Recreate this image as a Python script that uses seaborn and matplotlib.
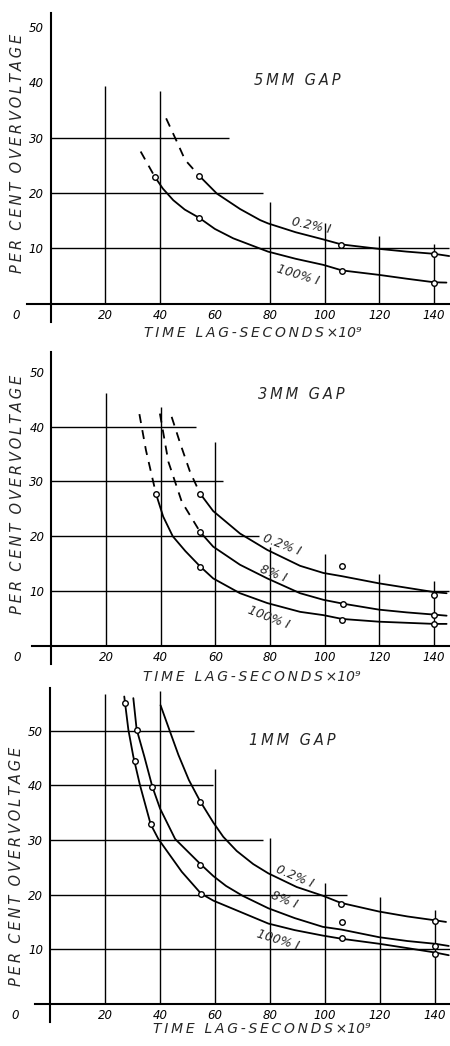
import seaborn as sns
import matplotlib.pyplot as plt

# --------------------------------------------------
# DATA
# --------------------------------------------------
x_ticks = [20, 40, 60, 80, 100, 120, 140]
y_ticks = [10, 20, 30, 40, 50]

# ---- 5 MM GAP ----
g5_02_x = [54.3, 60.7, 69.2, 76.5, 79.4, 89.5, 99.6, 106.2, 119.8, 130, 140.1, 145.5]
g5_02_y = [23.1, 19.9, 17.1, 15.1, 14.5, 12.9, 11.6, 10.7, 9.9, 9.4, 9.0, 8.6]
g5_02_dash_x = [42.2, 46.1, 49.1, 54.3]
g5_02_dash_y = [33.5, 29.3, 26.0, 23.1]
g5_02_pts_x = [54.3, 106.2, 140.1]
g5_02_pts_y = [23.1, 10.6, 9.0]

g5_100_x = [38.1, 41, 44.8, 49, 54.3, 60, 66.7, 79.4, 89.5, 99.6, 106.4, 119.8, 130, 140.1, 144.5]
g5_100_y = [22.9, 20.8, 18.7, 17.0, 15.5, 13.5, 11.8, 9.4, 8.1, 7.0, 6.0, 5.2, 4.5, 3.85, 3.8]
g5_100_dash_x = [32.9, 38.1]
g5_100_dash_y = [27.5, 22.9]
g5_100_pts_x = [38.1, 54.3, 106.4, 140.1]
g5_100_pts_y = [22.9, 15.5, 5.9, 3.8]

g5_vgrid_x = [20, 40, 80, 100, 120, 140]
g5_vgrid_top = [39.3, 38.4, 18.3, 14.6, 12.2, 10.8]
g5_hgrid_y = [10, 20, 30]
g5_hgrid_end = [145.5, 77.5, 65]

# ---- 3 MM GAP ----
g3_02_x = [54.4, 59.2, 69.0, 79.0, 91.0, 99.5, 106.4, 119.9, 130, 140.1, 144.6]
g3_02_y = [27.8, 24.6, 20.5, 17.5, 14.6, 13.3, 12.7, 11.4, 10.6, 9.8, 9.6]
g3_02_dash_x = [44.0, 47.1, 50.7, 54.4]
g3_02_dash_y = [41.8, 37.0, 31.8, 27.8]
g3_02_pts_x = [54.4, 106.4, 140]
g3_02_pts_y = [27.8, 14.6, 9.3]

g3_8_x = [54.4, 59.2, 69.0, 79.0, 91.0, 99.5, 106.6, 119.9, 130, 140, 144.6]
g3_8_y = [20.8, 18.1, 14.8, 12.3, 9.6, 8.4, 7.7, 6.6, 6.1, 5.7, 5.5]
g3_8_dash_x = [39.7, 42.8, 47.7, 54.4]
g3_8_dash_y = [42.4, 33.6, 26.3, 20.8]
g3_8_pts_x = [54.4, 106.6, 140]
g3_8_pts_y = [20.8, 7.6, 5.7]

g3_100_x = [38.3, 40.9, 44.4, 49, 54.4, 59.2, 69.0, 79.0, 91.0, 99.5, 106.4, 119.9, 130, 140, 144.6]
g3_100_y = [27.7, 23.6, 20.0, 17.3, 14.5, 12.3, 9.6, 7.8, 6.2, 5.6, 4.9, 4.4, 4.2, 4.0, 4.0]
g3_100_dash_x = [32.2, 34.6, 38.3]
g3_100_dash_y = [42.3, 35.7, 27.7]
g3_100_pts_x = [38.3, 54.4, 106.4, 140]
g3_100_pts_y = [27.7, 14.4, 4.8, 3.9]

g3_vgrid_x = [20, 40, 60, 80, 100, 120, 140]
g3_vgrid_top = [46.2, 43.6, 37.3, 18.1, 16.8, 13.2, 11.9]
g3_hgrid_y = [10, 20, 30, 40]
g3_hgrid_end = [145.5, 76, 62.9, 53]

# ---- 1 MM GAP ----
g1_02_x = [40.2, 43.4, 46.7, 50.5, 54.5, 59.4, 63, 67.9, 73.9, 79.4, 89.7, 99.2, 105.7, 119.7, 130, 140, 144]
g1_02_y = [54.7, 50.2, 45.6, 41.0, 37.2, 33.2, 30.6, 28.0, 25.6, 23.9, 21.4, 19.8, 18.5, 16.9, 16.0, 15.3, 15.0]
g1_02_pts_x = [54.5, 105.7, 140]
g1_02_pts_y = [36.9, 18.3, 15.2]

g1_8_x = [30.3, 31.5, 34.3, 37.2, 40, 45.5, 54.5, 59.4, 64, 70, 79.4, 89, 99.2, 106, 119.7, 130, 140, 145]
g1_8_y = [56.0, 50.3, 45.3, 39.8, 35.8, 30.2, 25.7, 23.4, 21.6, 19.8, 17.5, 15.7, 14.1, 13.6, 12.2, 11.5, 11.0, 10.6]
g1_8_pts_x = [31.5, 37.2, 54.5, 106, 140]
g1_8_pts_y = [50.1, 39.7, 25.5, 15.0, 10.5]

g1_100_x = [27.0, 28.5, 30.3, 32.7, 36.6, 39.4, 47.9, 54.9, 59.4, 79.4, 89, 99.2, 106.3, 119.7, 130, 140, 145]
g1_100_y = [56.3, 50.2, 45.3, 40.1, 32.9, 30.2, 24.2, 20.2, 18.9, 14.7, 13.5, 12.5, 11.9, 11.0, 10.2, 9.4, 8.9]
g1_100_pts_x = [27.3, 30.9, 36.6, 54.9, 106.3, 140]
g1_100_pts_y = [55.2, 44.4, 32.9, 20.2, 12.0, 9.2]

g1_vgrid_x = [20, 40, 60, 80, 100, 120, 140]
g1_vgrid_top = [56.8, 57.3, 43, 30.3, 22.2, 19.5, 17.2]
g1_hgrid_y = [10, 20, 30, 40, 50]
g1_hgrid_end = [145.5, 108, 77.6, 59.4, 52.4]

# --------------------------------------------------
# STYLE
# --------------------------------------------------
sns.set_style("white")
plt.rcParams['font.family'] = ['DejaVu Sans']
plt.rcParams['font.style'] = 'italic'

TS = '\u2009'  # thin space for the wide hand lettering


def spaced(s):
    return TS.join(s)


W, H = 450, 1046
fig = plt.figure(figsize=(W / 100, H / 100), dpi=100)


def make_axes(x0, xs, y0, ys, ytop):
    xlim = (-14, 146)
    ylim = (-4.5, ytop + 0.5)
    l = x0 + xlim[0] * xs
    r = x0 + xlim[1] * xs
    t = y0 - ylim[1] * ys
    b = y0 - ylim[0] * ys
    ax = fig.add_axes([l / W, 1 - b / H, (r - l) / W, (b - t) / H])
    ax.set_xlim(xlim)
    ax.set_ylim(ylim)
    return ax


def draw_panel(ax, p):
    # partial grid lines
    ax.vlines(p["vx"], 0, p["vtop"], color="black", lw=1.0)
    ax.hlines(p["hy"], 0, p["hend"], color="black", lw=1.0)

    # axes lines
    for s in ["top", "right"]:
        ax.spines[s].set_visible(False)
    ax.spines["left"].set_position(("data", 0))
    ax.spines["bottom"].set_position(("data", 0))
    ax.spines["left"].set_bounds(-3.3, p["ytop"])
    ax.spines["bottom"].set_bounds(p["xleft"], 145.5)
    for s in ["left", "bottom"]:
        ax.spines[s].set_linewidth(1.5)
        ax.spines[s].set_color("black")

    ax.set_yticks(y_ticks)
    ax.set_yticklabels([str(v) for v in y_ticks])
    ax.set_xticks([-12.5] + x_ticks)
    ax.set_xticklabels(["0"] + [str(v) for v in x_ticks])
    ax.tick_params(axis="both", length=0, labelsize=8.5, colors="black")
    ax.tick_params(axis="y", pad=5)
    ax.tick_params(axis="x", pad=4)
    ax.set_xlabel("")
    ax.set_ylabel("")

    # curves
    for cx, cy in p["curves"]:
        sns.lineplot(x=cx, y=cy, ax=ax, color="black", lw=1.3,
                     sort=False, estimator=None)
    for cx, cy in p["dashes"]:
        sns.lineplot(x=cx, y=cy, ax=ax, color="black", lw=1.3,
                     sort=False, estimator=None, linestyle=(0, (5, 4)))
    for px, py in p["points"]:
        sns.scatterplot(x=px, y=py, ax=ax, marker="o", s=16,
                        color="white", edgecolor="black", linewidth=1.0,
                        zorder=5)

    # labels
    ax.text(p["title_xy"][0], p["title_xy"][1], spaced(p["title"]),
            ha="center", va="center", fontsize=10.5)
    for txt, (tx, ty), rot in p["labels"]:
        ax.text(tx, ty, txt, ha="center", va="center", fontsize=9,
                rotation=rot, rotation_mode="anchor")
    ax.text(p["ylab_xy"][0], p["ylab_xy"][1],
            "  ".join(spaced(w) for w in "PER CENT OVERVOLTAGE".split()),
            rotation=90, ha="center", va="center", fontsize=10.5)
    ax.text(p["xlab_xy"][0], p["xlab_xy"][1],
            spaced("TIME LAG-SECONDS") + TS + "×10⁹",
            ha="center", va="center", fontsize=10)


panels = [
    dict(frame=(50.5, 2.74, 303.6, 5.53), ytop=52.5, xleft=-8.5,
         vx=g5_vgrid_x, vtop=g5_vgrid_top, hy=g5_hgrid_y, hend=g5_hgrid_end,
         curves=[(g5_02_x, g5_02_y), (g5_100_x, g5_100_y)],
         dashes=[(g5_02_dash_x, g5_02_dash_y), (g5_100_dash_x, g5_100_dash_y)],
         points=[(g5_02_pts_x, g5_02_pts_y), (g5_100_pts_x, g5_100_pts_y)],
         title="5MM GAP", title_xy=(90, 40.4),
         labels=[("0.2% I", (95.1, 14.0), -12), ("100% I", (90.2, 5.2), -17)],
         ylab_xy=(-12.2, 27.2), xlab_xy=(73.9, -5.4)),
    dict(frame=(51.4, 2.733, 645.8, 5.477), ytop=53.6, xleft=-7,
         vx=g3_vgrid_x, vtop=g3_vgrid_top, hy=g3_hgrid_y, hend=g3_hgrid_end,
         curves=[(g3_02_x, g3_02_y), (g3_8_x, g3_8_y), (g3_100_x, g3_100_y)],
         dashes=[(g3_02_dash_x, g3_02_dash_y), (g3_8_dash_x, g3_8_dash_y),
                 (g3_100_dash_x, g3_100_dash_y)],
         points=[(g3_02_pts_x, g3_02_pts_y), (g3_8_pts_x, g3_8_pts_y),
                 (g3_100_pts_x, g3_100_pts_y)],
         title="3MM GAP", title_xy=(91.6, 45.8),
         labels=[("0.2% I", (84.2, 18.4), -21), ("8% I", (81.2, 13.1), -21),
                 ("100% I", (79.4, 5.2), -21)],
         ylab_xy=(-12.5, 27.7), xlab_xy=(73.3, -5.7)),
    dict(frame=(50.0, 2.75, 1003.8, 5.458), ytop=57.9, xleft=-5.3,
         vx=g1_vgrid_x, vtop=g1_vgrid_top, hy=g1_hgrid_y, hend=g1_hgrid_end,
         curves=[(g1_02_x, g1_02_y), (g1_8_x, g1_8_y), (g1_100_x, g1_100_y)],
         dashes=[],
         points=[(g1_02_pts_x, g1_02_pts_y), (g1_8_pts_x, g1_8_pts_y),
                 (g1_100_pts_x, g1_100_pts_y)],
         title="1MM GAP", title_xy=(88.1, 48.3),
         labels=[("0.2% I", (89.1, 23.4), -23), ("8% I", (85.1, 19.0), -22),
                 ("100% I", (83, 11.6), -17)],
         ylab_xy=(-12.1, 25.2), xlab_xy=(77, -4.6)),
]

for p in panels:
    ax = make_axes(*p["frame"], p["ytop"])
    draw_panel(ax, p)

fig.savefig("out.png", dpi=100, facecolor="white")
